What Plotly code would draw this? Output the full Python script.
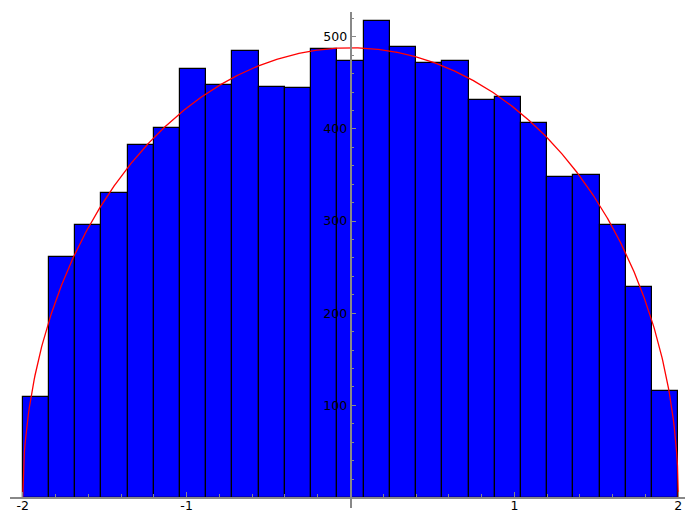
import numpy as np
import plotly.graph_objects as go

# histogram data: 25 bins of width 0.16 on [-2, 2]
bin_left = -2.0
bin_width = 0.16
counts = [109, 261, 296, 330, 382, 401, 465, 448, 484, 445, 444, 487, 474,
          517, 489, 471, 474, 431, 435, 406, 348, 350, 296, 228, 116]
semicircle_peak = 488

x_tickvals = [-2, -1, 1, 2]
x_ticktext = ["-2", "-1", "1", "2"]
y_tickvals = [100, 200, 300, 400, 500]
y_ticktext = ["100", "200", "300", "400", "500"]

centers = [bin_left + bin_width * (i + 0.5) for i in range(len(counts))]

xs = np.linspace(-2, 2, 801)
ys = semicircle_peak * np.sqrt(np.clip(4 - xs ** 2, 0, None)) / 2

fig = go.Figure()
fig.add_trace(go.Bar(
    x=centers, y=counts, width=bin_width,
    marker=dict(color="#0000ff", line=dict(color="black", width=1.2)),
    hoverinfo="skip",
))
fig.add_trace(go.Scatter(
    x=xs, y=ys, mode="lines",
    line=dict(color="#ff0000", width=1.3),
    hoverinfo="skip",
))

W, H = 685, 513
ml, mr, mt, mb = 10, 0, 12, 5
px_per_x = 163.9
x0_px = 350.5
px_per_y = 0.9215
y0_px = 497.5
xmin = (ml - x0_px) / px_per_x
xmax = (W - mr - x0_px) / px_per_x
ymax = (y0_px - mt) / px_per_y
ymin = (y0_px - (H - mb)) / px_per_y

axis_color = "#888888"
fig.update_layout(
    width=W, height=H,
    margin=dict(l=ml, r=mr, t=mt, b=mb, pad=0, autoexpand=False),
    paper_bgcolor="white", plot_bgcolor="white",
    showlegend=False, bargap=0,
    font=dict(family="DejaVu Sans", size=12, color="black"),
    xaxis=dict(
        range=[xmin, xmax], showgrid=False, zeroline=False, automargin=False,
        anchor="free", position=(0 - ymin) / (ymax - ymin),
        showline=True, linecolor=axis_color, linewidth=1.6,
        ticks="inside", ticklen=5, tickwidth=1, tickcolor=axis_color,
        tickvals=x_tickvals, ticktext=x_ticktext,
        tickfont=dict(size=12.5, color="black"),
        ticklabelstandoff=-3,
        minor=dict(dtick=0.2, tick0=0, ticks="inside", ticklen=3,
                   tickwidth=1, tickcolor=axis_color, showgrid=False),
        layer="above traces",
    ),
    yaxis=dict(
        range=[ymin, ymax], showgrid=False, zeroline=False, automargin=False,
        anchor="free", position=(0 - xmin) / (xmax - xmin),
        showline=True, linecolor=axis_color, linewidth=1.6,
        ticks="inside", ticklen=5, tickwidth=1, tickcolor=axis_color,
        tickvals=y_tickvals, ticktext=y_ticktext,
        tickfont=dict(size=12.5, color="black"),
        minor=dict(dtick=20, tick0=0, ticks="inside", ticklen=3,
                   tickwidth=1, tickcolor=axis_color, showgrid=False),
        layer="above traces",
    ),
)

fig.write_html("out.html")
